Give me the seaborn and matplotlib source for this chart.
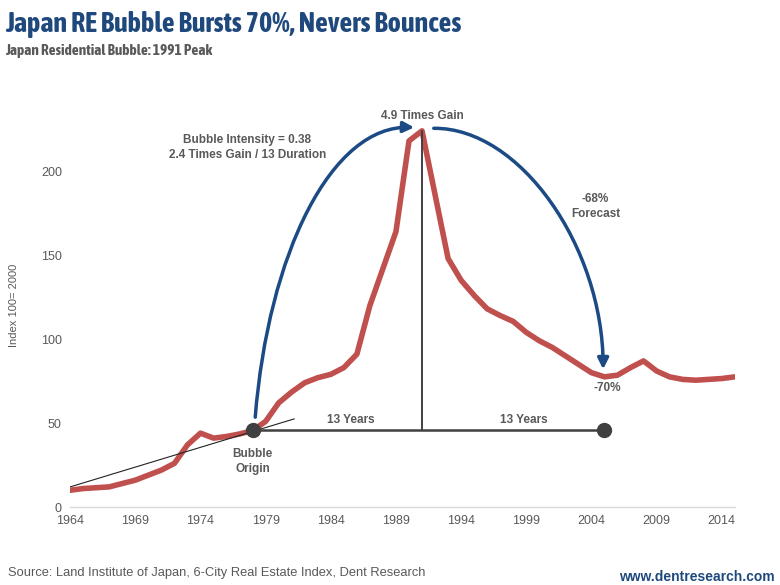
import numpy as np
import pandas as pd
import seaborn as sns
import matplotlib.pyplot as plt
from matplotlib.path import Path
from matplotlib.patches import FancyArrowPatch

# Japan 6-city residential index (2000 = 100)
years = list(range(1964, 2016))
index_values = [10, 11, 11.5, 12, 14, 16, 19, 22, 26, 37,
                44, 41, 42, 43.5, 45.5, 51, 62, 68.5, 74, 77,
                79, 83, 91, 120, 142, 164, 218, 224, 186, 148,
                135, 126, 118, 114, 110.5, 104, 99, 95, 90, 85,
                80, 77.5, 78.5, 83, 87, 81, 77.5, 76, 75.5, 76,
                76.5, 77.5]

origin_year, peak_year, end_year = 1978, 1991, 2005
origin_level = 46
peak_level = 224

df = pd.DataFrame({"year": years, "index": index_values})

sns.set_style("white")
plt.rcParams["font.family"] = ["Liberation Sans", "DejaVu Sans"]

navy = "#1f497d"
red = "#c0504d"
dark = "#404040"
grey = "#595959"
narrow = ["Asap Condensed", "Barlow Condensed", "Liberation Sans", "DejaVu Sans"]

fig = plt.figure(figsize=(7.8, 5.85), dpi=100)
ax = fig.add_axes([0.09, 0.1333, 0.852, 0.689])

sns.lineplot(data=df, x="year", y="index", color=red, linewidth=4, ax=ax)

# trend line from the start through the bubble origin
ax.plot([1964, 1981.2], [12, 52.5], color="#222222", linewidth=0.8)

# 13 years up / 13 years down
ax.plot([origin_year, end_year], [origin_level, origin_level], color=dark, linewidth=1.8)
ax.plot([peak_year, peak_year], [origin_level, peak_level], color=dark, linewidth=1.4)
ax.plot([origin_year, end_year], [origin_level, origin_level], "o", color=dark, markersize=10)

# curved arrows
up_path = Path([(1978.2, 53.5), (1979.2, 150), (1984, 228), (1990.4, 226)],
               [Path.MOVETO, Path.CURVE4, Path.CURVE4, Path.CURVE4])
down_path = Path([(1991.9, 225.5), (1998.5, 226), (2004.9, 155), (2004.9, 82)],
                 [Path.MOVETO, Path.CURVE4, Path.CURVE4, Path.CURVE4])
for p in (up_path, down_path):
    ax.add_patch(FancyArrowPatch(path=p, arrowstyle="-|>", mutation_scale=16,
                                 color="#1c4a85", linewidth=2.5))

lab = dict(color=grey, fontsize=8.5, fontweight="bold", ha="center", va="center")
ax.text(1991, 233, "4.9 Times Gain", **lab)
ax.text(1977.6, 214, "Bubble Intensity = 0.38\n2.4 Times Gain / 13 Duration", linespacing=1.3, **lab)
ax.text(2004.3, 179, "-68%\nForecast", linespacing=1.3, **lab)
ax.text(1985.5, 52, "13 Years", **lab)
ax.text(1998.8, 52, "13 Years", **lab)
ax.text(1978, 35, "Bubble\nOrigin", linespacing=1.3, va="top", color=grey,
        fontsize=8.5, fontweight="bold", ha="center")
ax.text(2005.2, 71, "-70%", **lab)

ax.set_xlim(1964, 2015)
ax.set_ylim(0, 240)
ax.set_xticks(range(1964, 2016, 5))
ax.set_yticks([0, 50, 100, 150, 200])
ax.tick_params(axis="both", labelsize=9, labelcolor=grey, length=0, pad=6)
ax.set_xlabel("")
ax.set_ylabel("Index 100= 2000", fontsize=8, color=grey, labelpad=16)
for s in ["top", "right", "left"]:
    ax.spines[s].set_visible(False)
ax.spines["bottom"].set_color("#d9d9d9")
ax.spines["bottom"].set_linewidth(1)

title = fig.text(0.0064, 0.982, "Japan RE Bubble Bursts 70%, Nevers Bounces", family=narrow,
                 fontsize=20, fontweight="bold", color=navy, va="top")
subtitle = fig.text(0.0064, 0.925, "Japan Residential Bubble: 1991 Peak", family=narrow,
                    fontsize=12, fontweight="bold", color=grey, va="top")
fig.text(0.01, 0.021, "Source: Land Institute of Japan, 6-City Real Estate Index, Dent Research",
         fontsize=9.3, color=grey, va="center")
fig.text(0.993, 0.014, "www.dentresearch.com", fontsize=10, fontweight="bold",
         color=navy, ha="right", va="center")

# bring the headings to the width they take in the original
renderer = fig.canvas.get_renderer()
for t, target in ((title, 455), (subtitle, 205)):
    w = t.get_window_extent(renderer).width
    t.set_fontsize(min(t.get_fontsize() * target / w, t.get_fontsize() * 1.15))

fig.savefig("out.png", dpi=100)
